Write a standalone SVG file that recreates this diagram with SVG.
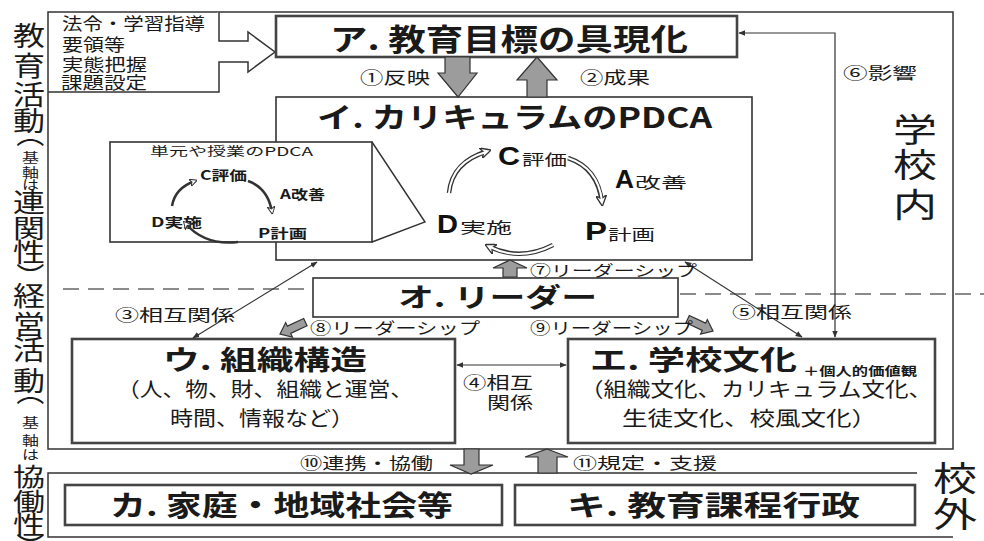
<svg xmlns="http://www.w3.org/2000/svg" width="984" height="541" viewBox="0 0 984 541">
<style>
.t{font-family:"Noto Sans CJK JP","Noto Sans CJK SC",sans-serif;fill:#1a1a1a}
.b{font-weight:bold}
.l{font-size:17px}
.box{fill:#fff;stroke:#333;stroke-width:1.6}
.box2{fill:#fff;stroke:#444;stroke-width:2.6}
.frame{fill:none;stroke:#333;stroke-width:1.5}
.ga{fill:#9c9c9c;stroke:#333;stroke-width:1.2}
.conn{fill:none;stroke:#333;stroke-width:1.2}
.dash{stroke:#666;stroke-width:1.6;stroke-dasharray:16 9}
.cyc{fill:none;stroke:#333;stroke-width:4.5}
.cyci{fill:none;stroke:#fff;stroke-width:2}
.e{font-family:"Liberation Sans",Arial,sans-serif;font-weight:bold;fill:#111}
.vp{font-size:28px}
</style>
<defs>
<marker id="ah" viewBox="0 0 10 10" refX="9" refY="5" markerWidth="7" markerHeight="7" markerUnits="userSpaceOnUse" orient="auto-start-reverse"><path d="M0,1 L10,5 L0,9 z" fill="#333"/></marker>
<marker id="ch" viewBox="0 0 10 10" refX="7" refY="5" markerWidth="11" markerHeight="11" markerUnits="userSpaceOnUse" orient="auto"><path d="M0,0 L10,5 L0,10 L3,5 z" fill="#fff" stroke="#333" stroke-width="1.2"/></marker>
<marker id="chs" viewBox="0 0 10 10" refX="7" refY="5" markerWidth="8" markerHeight="8" markerUnits="userSpaceOnUse" orient="auto"><path d="M0,0 L10,5 L0,10 L3,5 z" fill="#fff" stroke="#333" stroke-width="1.2"/></marker>
</defs>
<rect width="984" height="541" fill="#fff"/>

<g id="frames">
<rect class="frame" x="48" y="12" width="905" height="437"/>
<path class="frame" d="M917,473 H48 V537 H953"/>
<line class="dash" x1="63" y1="289" x2="313" y2="289"/>
<line class="dash" x1="680" y1="294" x2="984" y2="294"/>
</g>

<g id="left-label" class="t">
<text x="13" y="46" font-size="27" textLength="32" lengthAdjust="spacingAndGlyphs">教</text>
<text x="13" y="76" font-size="27" textLength="32" lengthAdjust="spacingAndGlyphs">育</text>
<text x="13" y="105" font-size="27" textLength="32" lengthAdjust="spacingAndGlyphs">活</text>
<text x="13" y="131" font-size="27" textLength="32" lengthAdjust="spacingAndGlyphs">動</text>
<text class="vp" transform="translate(29,139) rotate(90)" x="-19.6" y="10.4">（</text>
<text x="22" y="162" font-size="13" textLength="17" lengthAdjust="spacingAndGlyphs">基</text>
<text x="22" y="177" font-size="13" textLength="17" lengthAdjust="spacingAndGlyphs">軸</text>
<text x="22" y="189" font-size="13" textLength="17" lengthAdjust="spacingAndGlyphs">は</text>
<text x="13" y="212" font-size="26" textLength="32" lengthAdjust="spacingAndGlyphs">連</text>
<text x="13" y="238" font-size="26" textLength="32" lengthAdjust="spacingAndGlyphs">関</text>
<text x="13" y="262" font-size="26" textLength="32" lengthAdjust="spacingAndGlyphs">性</text>
<text class="vp" transform="translate(29,271) rotate(90)" x="-8.4" y="10.4">）</text>
<text x="13" y="306" font-size="27" textLength="32" lengthAdjust="spacingAndGlyphs">経</text>
<text x="13" y="335" font-size="27" textLength="32" lengthAdjust="spacingAndGlyphs">営</text>
<text x="13" y="360" font-size="27" textLength="32" lengthAdjust="spacingAndGlyphs">活</text>
<text x="13" y="391" font-size="27" textLength="32" lengthAdjust="spacingAndGlyphs">動</text>
<text class="vp" transform="translate(29,397) rotate(90)" x="-19.6" y="10.4">（</text>
<text x="22" y="427" font-size="13" textLength="17" lengthAdjust="spacingAndGlyphs">基</text>
<text x="22" y="445" font-size="13" textLength="17" lengthAdjust="spacingAndGlyphs">軸</text>
<text x="22" y="459" font-size="13" textLength="17" lengthAdjust="spacingAndGlyphs">は</text>
<text x="13" y="486" font-size="25" textLength="32" lengthAdjust="spacingAndGlyphs">協</text>
<text x="13" y="511" font-size="25" textLength="32" lengthAdjust="spacingAndGlyphs">働</text>
<text x="13" y="534" font-size="25" textLength="32" lengthAdjust="spacingAndGlyphs">性</text>
<text class="vp" transform="translate(29,541) rotate(90)" x="-8.4" y="10.4">）</text>
</g>

<g id="right-labels" class="t">
<text x="893" y="142" font-size="33" textLength="44" lengthAdjust="spacingAndGlyphs">学</text>
<text x="893" y="177" font-size="33" textLength="44" lengthAdjust="spacingAndGlyphs">校</text>
<text x="893" y="217" font-size="33" textLength="44" lengthAdjust="spacingAndGlyphs">内</text>
<text x="933" y="491" font-size="34" textLength="44" lengthAdjust="spacingAndGlyphs">校</text>
<text x="933" y="527" font-size="34" textLength="44" lengthAdjust="spacingAndGlyphs">外</text>
</g>

<g id="node-input">
<path d="M219,12 V41 H248 V32 L275,52 L248,72 V62 H219 V92 H48" fill="#fff" stroke="#333" stroke-width="1.5"/>
<g class="t" font-size="17">
<text x="62" y="30" textLength="143" lengthAdjust="spacingAndGlyphs">法令・学習指導</text>
<text x="62" y="51" textLength="63" lengthAdjust="spacingAndGlyphs">要領等</text>
<text x="62" y="71" textLength="85" lengthAdjust="spacingAndGlyphs">実態把握</text>
<text x="61" y="89" textLength="86" lengthAdjust="spacingAndGlyphs">課題設定</text>
</g>
</g>

<g id="node-a">
<rect class="box2" x="276" y="16" width="461" height="41"/>
<text class="t b" x="330" y="50" font-size="30" textLength="358" lengthAdjust="spacingAndGlyphs">ア. 教育目標の具現化</text>
</g>

<g id="node-i">
<rect class="box" x="276" y="97" width="476" height="163"/>
<text class="t b" x="317" y="128" font-size="28" textLength="395" lengthAdjust="spacingAndGlyphs">イ. カリキュラムのPDCA</text>
<text class="e" x="498" y="165" font-size="25" textLength="22" lengthAdjust="spacingAndGlyphs">C</text>
<text class="t" x="522" y="165" font-size="15" textLength="45" lengthAdjust="spacingAndGlyphs">評価</text>
<text class="e" x="615" y="188" font-size="25" textLength="19" lengthAdjust="spacingAndGlyphs">A</text>
<text class="t" x="635" y="188" font-size="15" textLength="52" lengthAdjust="spacingAndGlyphs">改善</text>
<text class="e" x="437" y="233" font-size="25" textLength="21" lengthAdjust="spacingAndGlyphs">D</text>
<text class="t" x="460" y="233" font-size="15" textLength="52" lengthAdjust="spacingAndGlyphs">実施</text>
<text class="e" x="585" y="240" font-size="25" textLength="22" lengthAdjust="spacingAndGlyphs">P</text>
<text class="t" x="608" y="240" font-size="15" textLength="47" lengthAdjust="spacingAndGlyphs">計画</text>
<path class="cyc" d="M449,193 Q452,162 488,151" marker-end="url(#ch)"/>
<path class="cyci" d="M449,193 Q452,162 486,152"/>
<path class="cyc" d="M568,158 Q598,168 602,203" marker-end="url(#ch)"/>
<path class="cyci" d="M568,158 Q598,168 602,201"/>
<path class="cyc" d="M553,245 Q520,262 488,246" marker-end="url(#ch)"/>
<path class="cyci" d="M553,245 Q520,262 490,247"/>
</g>

<g id="node-unit-pdca">
<rect x="110" y="142" width="262" height="100" fill="#fff" stroke="#333" stroke-width="1.6"/>
<polyline points="372,142 425,222 372,242" fill="none" stroke="#333" stroke-width="1.4"/>
<g class="t" font-size="13">
<text x="150" y="156" font-size="12" textLength="163" lengthAdjust="spacingAndGlyphs">単元や授業のPDCA</text>
<text x="200" y="180" class="b" textLength="47" lengthAdjust="spacingAndGlyphs">C評価</text>
<text x="280" y="199" class="b" textLength="45" lengthAdjust="spacingAndGlyphs">A改善</text>
<text x="151" y="227" class="b" textLength="51" lengthAdjust="spacingAndGlyphs">D実施</text>
<text x="258" y="238" class="b" textLength="49" lengthAdjust="spacingAndGlyphs">P計画</text>
</g>
<path fill="none" stroke="#333" stroke-width="2.5" d="M172,206 Q175,188 195,181" marker-end="url(#chs)"/>
<path fill="none" stroke="#333" stroke-width="2.5" d="M248,181 Q268,188 272,212" marker-end="url(#chs)"/>
<path fill="none" stroke="#333" stroke-width="2.5" d="M238,242 Q205,246 185,223" marker-end="url(#chs)"/>
</g>

<g id="node-o">
<rect class="box" x="313" y="278" width="365" height="39"/>
<text class="t b" x="398" y="307" font-size="26" textLength="199" lengthAdjust="spacingAndGlyphs">オ. リーダー</text>
</g>

<g id="node-u">
<rect class="box2" x="72" y="339" width="383" height="104"/>
<text class="t b" x="163" y="370" font-size="27" textLength="204" lengthAdjust="spacingAndGlyphs">ウ. 組織構造</text>
<text class="t" x="117" y="397" font-size="20" textLength="296" lengthAdjust="spacingAndGlyphs">（人、物、財、組織と運営、</text>
<text class="t" x="170" y="426" font-size="20" textLength="184" lengthAdjust="spacingAndGlyphs">時間、情報など）</text>
</g>

<g id="node-e">
<rect class="box2" x="568" y="339" width="367" height="104"/>
<text class="t b" x="590" y="370" font-size="27" textLength="207" lengthAdjust="spacingAndGlyphs">エ. 学校文化</text>
<text class="t b" x="803" y="376" font-size="12" textLength="114" lengthAdjust="spacingAndGlyphs">＋個人的価値観</text>
<text class="t" x="580" y="397" font-size="20" textLength="352" lengthAdjust="spacingAndGlyphs">（組織文化、カリキュラム文化、</text>
<text class="t" x="622" y="426" font-size="20" textLength="255" lengthAdjust="spacingAndGlyphs">生徒文化、校風文化）</text>
</g>

<g id="node-ka">
<rect class="box2" x="65" y="485" width="437" height="40"/>
<text class="t b" x="110" y="516" font-size="28" textLength="343" lengthAdjust="spacingAndGlyphs">カ. 家庭・地域社会等</text>
</g>

<g id="node-ki">
<rect class="box2" x="515" y="485" width="400" height="40"/>
<text class="t b" x="567" y="516" font-size="28" textLength="293" lengthAdjust="spacingAndGlyphs">キ. 教育課程行政</text>
</g>

<g id="connectors">
<polygon class="ga" points="445,57 470,57 470,73 477,73 458,97 438,73 445,73"/>
<polygon class="ga" points="537,57 557,80 547,80 547,97 527,97 527,80 517,80"/>
<polygon class="ga" points="510,260 527,268 517,268 517,277 503,277 503,268 493,268"/>
<polygon class="ga" transform="translate(280,334) rotate(-25)" points="0,0 10,-8 10,-4 28,-4 28,4 10,4 10,8"/>
<polygon class="ga" transform="translate(713,331) rotate(25)" points="0,0 -10,-8 -10,-4 -28,-4 -28,4 -10,4 -10,8"/>
<polygon class="ga" points="464,449 479,449 479,465 493,465 471,474 450,465 464,465"/>
<polygon class="ga" points="547,449 568,457 557,457 557,473 538,473 538,457 525,457"/>
<line class="conn" x1="317" y1="262" x2="193" y2="338" marker-start="url(#ah)" marker-end="url(#ah)"/>
<line class="conn" x1="685" y1="262" x2="802" y2="337" marker-start="url(#ah)" marker-end="url(#ah)"/>
<line class="conn" x1="457" y1="365" x2="566" y2="365" marker-start="url(#ah)" marker-end="url(#ah)"/>
<path class="conn" d="M835,337 V33 H739" marker-start="url(#ah)" marker-end="url(#ah)"/>
<g class="t l">
<text x="360" y="84" textLength="70" lengthAdjust="spacingAndGlyphs">①反映</text>
<text x="580" y="84" textLength="70" lengthAdjust="spacingAndGlyphs">②成果</text>
<text x="843" y="79" font-size="16" textLength="74" lengthAdjust="spacingAndGlyphs">⑥影響</text>
<text x="115" y="321" font-size="16" textLength="120" lengthAdjust="spacingAndGlyphs">③相互関係</text>
<text x="732" y="318" font-size="16" textLength="120" lengthAdjust="spacingAndGlyphs">⑤相互関係</text>
<text x="530" y="276" font-size="15" textLength="167" lengthAdjust="spacingAndGlyphs">⑦リーダーシップ</text>
<text x="310" y="334" font-size="16" textLength="170" lengthAdjust="spacingAndGlyphs">⑧リーダーシップ</text>
<text x="530" y="334" font-size="16" textLength="163" lengthAdjust="spacingAndGlyphs">⑨リーダーシップ</text>
<text x="463" y="389" textLength="70" lengthAdjust="spacingAndGlyphs">④相互</text>
<text x="487" y="409" textLength="46" lengthAdjust="spacingAndGlyphs">関係</text>
<text x="300" y="469" font-size="16" textLength="133" lengthAdjust="spacingAndGlyphs">⑩連携・協働</text>
<text x="573" y="469" font-size="16" textLength="144" lengthAdjust="spacingAndGlyphs">⑪規定・支援</text>
</g>
</g>
</svg>
